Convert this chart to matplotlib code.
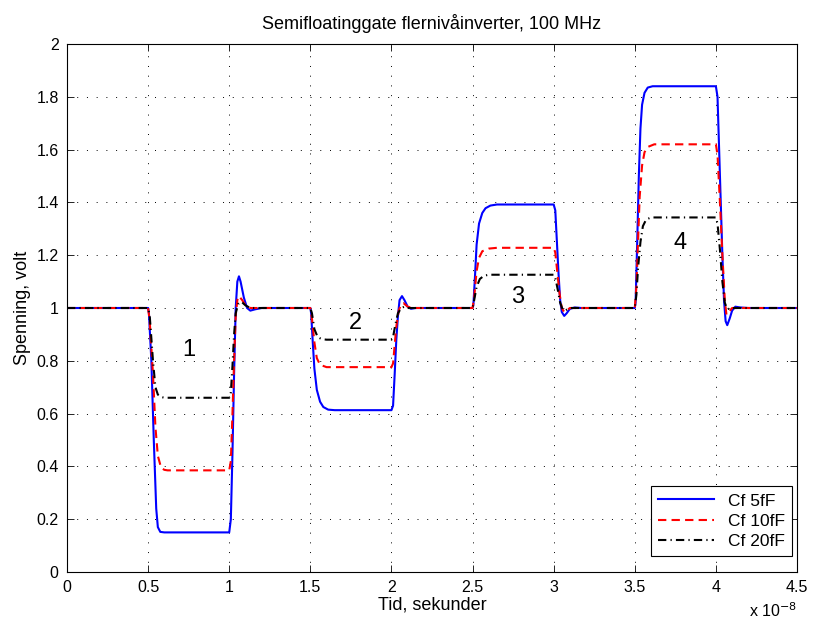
import numpy as np
import matplotlib
matplotlib.use('Agg')
import matplotlib.pyplot as plt
from matplotlib.ticker import FormatStrFormatter

matplotlib.rcParams['font.family'] = ['Liberation Sans', 'DejaVu Sans']

# ---------------------------------------------------------------------------
# Data (time in units of 1e-8 s, voltage in V)
# ---------------------------------------------------------------------------
t_5fF = [0.0, 0.50, 0.505, 0.52, 0.535, 0.55, 0.56, 0.575, 0.60,
         1.00, 1.01, 1.02, 1.03, 1.04, 1.05, 1.06, 1.07, 1.09, 1.11, 1.13, 1.16, 1.20,
         1.50, 1.505, 1.515, 1.525, 1.54, 1.56, 1.58, 1.61, 1.65,
         2.00, 2.01, 2.02, 2.03, 2.04, 2.05, 2.065, 2.08, 2.10, 2.12, 2.15,
         2.50, 2.505, 2.515, 2.525, 2.54, 2.56, 2.58, 2.61, 2.65,
         3.00, 3.01, 3.02, 3.03, 3.04, 3.05, 3.065, 3.08, 3.10, 3.13, 3.17,
         3.50, 3.505, 3.515, 3.525, 3.535, 3.545, 3.56, 3.58, 3.61,
         4.00, 4.01, 4.02, 4.03, 4.04, 4.05, 4.06, 4.07, 4.085, 4.10, 4.12, 4.15, 4.20,
         4.50]
v_5fF = [1.0, 1.0, 0.98, 0.80, 0.50, 0.24, 0.17, 0.152, 0.15,
         0.15, 0.20, 0.45, 0.75, 1.00, 1.10, 1.12, 1.10, 1.04, 1.00, 0.99, 0.995, 1.0,
         1.0, 0.98, 0.87, 0.77, 0.69, 0.645, 0.625, 0.615, 0.613,
         0.613, 0.63, 0.75, 0.88, 0.97, 1.03, 1.045, 1.03, 1.005, 0.997, 1.0,
         1.0, 1.01, 1.12, 1.24, 1.32, 1.36, 1.378, 1.388, 1.392,
         1.392, 1.37, 1.25, 1.13, 1.03, 0.985, 0.97, 0.98, 0.997, 1.002, 1.0,
         1.0, 1.02, 1.25, 1.50, 1.68, 1.77, 1.815, 1.835, 1.84,
         1.84, 1.80, 1.60, 1.40, 1.20, 1.03, 0.95, 0.935, 0.96, 0.99, 1.005, 1.002, 1.0,
         1.0]

t_10fF = [0.0, 0.50, 0.51, 0.53, 0.545, 0.56, 0.58, 0.60, 0.62,
          1.00, 1.01, 1.02, 1.03, 1.04, 1.05, 1.06, 1.08, 1.10, 1.13,
          1.50, 1.51, 1.525, 1.54, 1.56, 1.60,
          2.00, 2.01, 2.02, 2.03, 2.045, 2.06, 2.075, 2.10, 2.13,
          2.50, 2.51, 2.525, 2.54, 2.56, 2.60, 2.65,
          3.00, 3.01, 3.02, 3.035, 3.05, 3.065, 3.08, 3.10,
          3.50, 3.51, 3.52, 3.53, 3.545, 3.56, 3.58, 3.62,
          4.00, 4.01, 4.025, 4.04, 4.055, 4.065, 4.08, 4.10, 4.12,
          4.50]
v_10fF = [1.0, 1.0, 0.95, 0.75, 0.55, 0.44, 0.395, 0.387, 0.385,
          0.385, 0.42, 0.60, 0.80, 0.97, 1.03, 1.045, 1.03, 1.01, 1.0,
          1.0, 0.96, 0.87, 0.81, 0.785, 0.776,
          0.776, 0.79, 0.86, 0.93, 0.99, 1.015, 1.018, 1.005, 1.0,
          1.0, 1.04, 1.14, 1.19, 1.215, 1.225, 1.228,
          1.228, 1.21, 1.15, 1.06, 1.0, 0.985, 0.99, 1.0,
          1.0, 1.08, 1.25, 1.42, 1.54, 1.59, 1.61, 1.62,
          1.62, 1.58, 1.40, 1.20, 1.03, 0.975, 0.985, 1.0, 1.0,
          1.0]

t_20fF = [0.0, 0.50, 0.51, 0.53, 0.545, 0.56, 0.58, 0.60,
          1.00, 1.01, 1.02, 1.03, 1.04, 1.055, 1.075, 1.10, 1.13,
          1.50, 1.51, 1.525, 1.545, 1.57, 1.60,
          2.00, 2.01, 2.025, 2.04, 2.06, 2.08, 2.10,
          2.50, 2.51, 2.525, 2.545, 2.57, 2.60,
          3.00, 3.01, 3.025, 3.04, 3.055, 3.07, 3.09, 3.11,
          3.50, 3.51, 3.52, 3.535, 3.55, 3.57, 3.60,
          4.00, 4.01, 4.025, 4.04, 4.055, 4.07, 4.09,
          4.50]
v_20fF = [1.0, 1.0, 0.97, 0.80, 0.70, 0.672, 0.663, 0.66,
          0.66, 0.68, 0.78, 0.90, 0.98, 1.015, 1.024, 1.01, 1.0,
          1.0, 0.98, 0.92, 0.89, 0.882, 0.88,
          0.88, 0.89, 0.94, 0.98, 1.0, 1.005, 1.0,
          1.0, 1.03, 1.08, 1.11, 1.122, 1.126,
          1.126, 1.115, 1.07, 1.02, 0.995, 0.99, 0.997, 1.0,
          1.0, 1.05, 1.15, 1.25, 1.31, 1.335, 1.343,
          1.343, 1.32, 1.22, 1.10, 1.02, 0.995, 1.0,
          1.0]

series_labels = ['Cf 5fF', 'Cf 10fF', 'Cf 20fF']

# level annotations: label, time, voltage
note_text = ['1', '2', '3', '4']
note_t = [0.75, 1.78, 2.78, 3.78]
note_v = [0.84, 0.945, 1.04, 1.245]

x_ticks = np.arange(0, 4.51, 0.5)
y_ticks = np.arange(0, 2.01, 0.2)

# ---------------------------------------------------------------------------
# Figure
# ---------------------------------------------------------------------------
fs = 11.5      # tick labels
fs_lab = 13    # title / axis labels
fig = plt.figure(figsize=(8.13, 6.25), dpi=100)
ax = fig.add_axes([67/813, 53/625, 730/813, 528/625])

ax.plot(t_5fF, v_5fF, color='#0000ff', lw=1.5, ls='-', label=series_labels[0])
ax.plot(t_10fF, v_10fF, color='#ff0000', lw=1.5, ls=(0, (4, 2.5)), label=series_labels[1])
ax.plot(t_20fF, v_20fF, color='k', lw=1.5, ls=(0, (4, 2, 0.6, 2)), label=series_labels[2])

for txt, tt, vv in zip(note_text, note_t, note_v):
    ax.text(tt, vv, txt, fontsize=17, ha='center', va='center')

ax.set_xlim(0, 4.5)
ax.set_ylim(0, 2)
ax.set_xticks(x_ticks)
ax.set_yticks(y_ticks)
ax.xaxis.set_major_formatter(FormatStrFormatter('%g'))
ax.yaxis.set_major_formatter(FormatStrFormatter('%g'))
ax.tick_params(which='major', direction='in', length=5, width=0.6, colors='k',
               top=True, right=True, labelsize=fs, pad=6)
for s in ax.spines.values():
    s.set_linewidth(0.8)

# sparse MATLAB-like dotted grid
ax.grid(True, color='k', ls=(0, (1, 9)), lw=0.7)

ax.set_title('Semifloatinggate flernivåinverter, 100 MHz', fontsize=fs_lab, pad=11)
ax.set_xlabel('Tid, sekunder', fontsize=fs_lab, labelpad=1)
ax.set_ylabel('Spenning, volt', fontsize=fs_lab, labelpad=4)
ax.text(1.0, -0.055, r'x 10$^{-8}$', transform=ax.transAxes, ha='right', va='top',
        fontsize=fs)

leg = ax.legend(loc='lower right', bbox_to_anchor=(1.0, 0.02), fontsize=12.5,
                frameon=True, fancybox=False, framealpha=1, edgecolor='k',
                borderaxespad=0.3, handlelength=3.2, labelspacing=0.3)
leg.get_frame().set_linewidth(0.8)

plt.savefig('out.png', dpi=100)
